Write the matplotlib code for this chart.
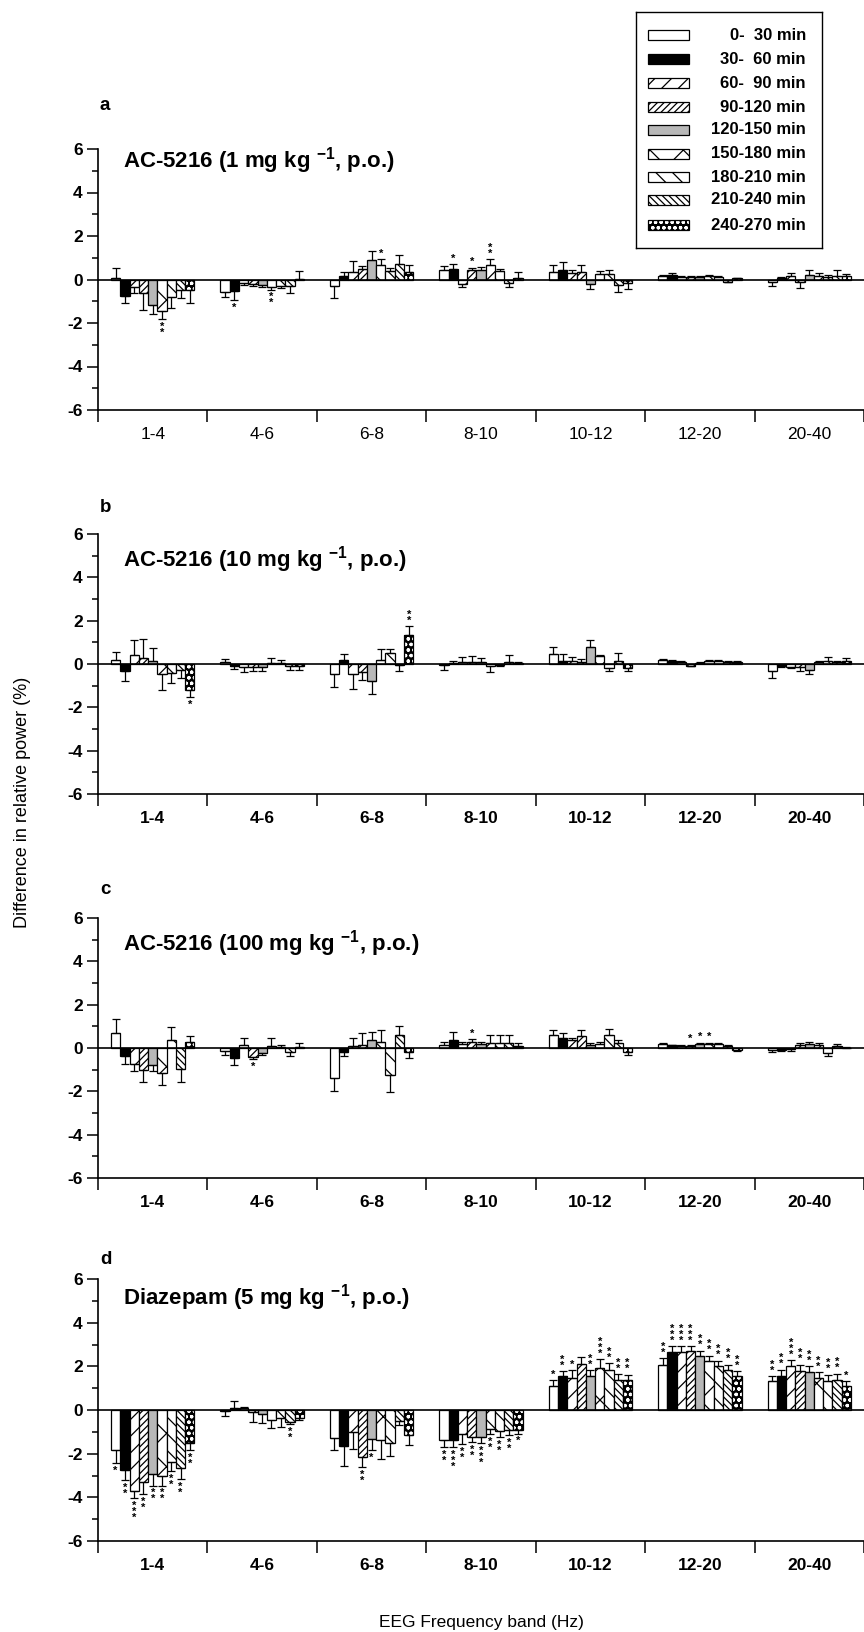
import matplotlib
matplotlib.use("Agg")
import matplotlib.pyplot as plt
from matplotlib.patches import Rectangle
import numpy as np

plt.rcParams["font.family"] = ["Liberation Sans", "DejaVu Sans"]
plt.rcParams["mathtext.fontset"] = "custom"
plt.rcParams["mathtext.rm"] = "Liberation Sans"
plt.rcParams["mathtext.bf"] = "Liberation Sans:bold"
plt.rcParams["axes.unicode_minus"] = False
plt.rcParams["hatch.linewidth"] = 0.9

# Frequency bands and recording periods
bands = ["1-4", "4-6", "6-8", "8-10", "10-12", "12-20", "20-40"]
periods = ["0-  30 min", "30-  60 min", "60-  90 min", "90-120 min", "120-150 min",
           "150-180 min", "180-210 min", "210-240 min", "240-270 min"]

# Panel a: AC-5216 1 mg/kg (rows = bands, cols = periods)
mean_a = [[0.05, -0.75, -0.35, -0.6, -1.15, -1.43, -0.8, -0.5, -0.5],
          [-0.58, -0.54, -0.15, -0.2, -0.25, -0.35, -0.3, -0.3, 0.02],
          [-0.28, 0.15, 0.35, 0.5, 0.88, 0.65, 0.4, 0.72, 0.34],
          [0.45, 0.5, -0.2, 0.45, 0.42, 0.65, 0.38, -0.15, 0.05],
          [0.34, 0.42, 0.3, 0.34, -0.2, 0.23, 0.26, -0.25, -0.15],
          [0.15, 0.2, 0.12, 0.12, 0.1, 0.15, 0.12, -0.1, 0.05],
          [-0.1, 0.08, 0.15, -0.1, 0.2, 0.15, 0.1, 0.15, 0.15]]
err_a = [[0.47, 0.33, 0.25, 0.8, 0.45, 0.4, 0.5, 0.35, 0.58],
         [0.24, 0.4, 0.1, 0.1, 0.1, 0.12, 0.1, 0.3, 0.35],
         [0.57, 0.2, 0.5, 0.12, 0.42, 0.3, 0.15, 0.42, 0.34],
         [0.17, 0.22, 0.15, 0.1, 0.15, 0.3, 0.08, 0.2, 0.3],
         [0.31, 0.38, 0.12, 0.34, 0.23, 0.14, 0.16, 0.33, 0.28],
         [0.07, 0.08, 0.05, 0.06, 0.05, 0.05, 0.05, 0.03, 0.03],
         [0.2, 0.05, 0.15, 0.28, 0.22, 0.15, 0.1, 0.27, 0.1]]
sig_a = [["", "", "", "", "", "**", "", "", ""],
         ["", "*", "", "", "", "**", "", "", ""],
         ["", "", "", "", "", "*", "", "", ""],
         ["", "*", "", "*", "", "**", "", "", ""],
         [""] * 9, [""] * 9, [""] * 9]

# Panel b: AC-5216 10 mg/kg
mean_b = [[0.2, -0.34, 0.43, 0.28, 0.12, -0.46, -0.4, -0.26, -1.18],
          [0.07, -0.1, -0.15, -0.12, -0.15, 0.05, 0.05, -0.1, -0.1],
          [-0.46, 0.2, -0.46, -0.35, -0.8, 0.2, 0.5, -0.05, 1.32],
          [-0.05, 0.05, 0.1, 0.1, 0.1, -0.1, -0.05, 0.1, 0.05],
          [0.46, 0.15, 0.12, 0.1, 0.78, 0.35, -0.2, 0.15, -0.2],
          [0.2, 0.15, 0.1, -0.08, 0.05, 0.15, 0.15, 0.1, 0.1],
          [-0.34, -0.1, -0.15, -0.15, -0.26, 0.1, 0.15, 0.1, 0.12]]
err_b = [[0.34, 0.46, 0.69, 0.89, 0.62, 0.72, 0.48, 0.39, 0.34],
         [0.18, 0.13, 0.22, 0.22, 0.15, 0.23, 0.15, 0.16, 0.16],
         [0.62, 0.26, 0.68, 0.37, 0.57, 0.49, 0.19, 0.29, 0.42],
         [0.21, 0.1, 0.22, 0.25, 0.18, 0.27, 0.05, 0.33, 0.05],
         [0.31, 0.31, 0.2, 0.15, 0.31, 0.08, 0.14, 0.35, 0.1],
         [0.05, 0.04, 0.04, 0.03, 0.03, 0.04, 0.04, 0.03, 0.03],
         [0.31, 0.05, 0.05, 0.19, 0.19, 0.05, 0.17, 0.05, 0.16]]
sig_b = [["", "", "", "", "", "", "", "", "*"],
         [""] * 9,
         ["", "", "", "", "", "", "", "", "**"],
         [""] * 9, [""] * 9, [""] * 9, [""] * 9]

# Panel c: AC-5216 100 mg/kg
mean_c = [[0.69, -0.38, -0.75, -1.0, -0.78, -1.15, 0.35, -0.97, 0.3],
          [-0.15, -0.45, 0.15, -0.4, -0.25, 0.1, 0.05, -0.2, 0.05],
          [-1.4, -0.2, 0.1, 0.15, 0.35, 0.3, -1.23, 0.6, -0.2],
          [0.15, 0.35, 0.2, 0.3, 0.2, 0.25, 0.25, 0.25, 0.1],
          [0.58, 0.46, 0.35, 0.54, 0.15, 0.2, 0.62, 0.25, -0.2],
          [0.2, 0.12, 0.1, 0.1, 0.2, 0.2, 0.2, 0.1, -0.1],
          [-0.1, -0.1, -0.05, 0.15, 0.2, 0.15, -0.25, 0.1, 0.0]]
err_c = [[0.66, 0.34, 0.3, 0.55, 0.3, 0.55, 0.62, 0.6, 0.27],
         [0.15, 0.32, 0.31, 0.1, 0.05, 0.36, 0.1, 0.18, 0.18],
         [0.6, 0.15, 0.36, 0.54, 0.39, 0.55, 0.8, 0.43, 0.26],
         [0.15, 0.39, 0.1, 0.1, 0.1, 0.33, 0.33, 0.33, 0.15],
         [0.24, 0.23, 0.1, 0.28, 0.1, 0.1, 0.28, 0.13, 0.1],
         [0.05, 0.04, 0.04, 0.05, 0.05, 0.05, 0.04, 0.03, 0.03],
         [0.1, 0.05, 0.08, 0.08, 0.1, 0.08, 0.1, 0.08, 0.03]]
sig_c = [[""] * 9,
         ["", "", "", "*", "", "", "", "", ""],
         [""] * 9,
         ["", "", "", "*", "", "", "", "", ""],
         [""] * 9,
         ["", "", "", "*", "*", "*", "", "", ""],
         [""] * 9]

# Panel d: Diazepam 5 mg/kg
mean_d = [[-1.85, -2.74, -3.69, -3.3, -2.92, -3.0, -2.4, -2.65, -1.5],
          [-0.05, 0.1, 0.1, -0.1, -0.2, -0.45, -0.35, -0.55, -0.35],
          [-1.26, -1.66, -1.0, -2.15, -1.35, -1.38, -1.5, -0.5, -1.15],
          [-1.38, -1.38, -1.08, -1.25, -1.23, -0.85, -0.95, -0.92, -0.9],
          [1.08, 1.57, 1.46, 2.12, 1.54, 1.92, 1.85, 1.38, 1.38],
          [2.08, 2.65, 2.65, 2.69, 2.46, 2.23, 2.0, 1.85, 1.54],
          [1.34, 1.57, 2.0, 1.77, 1.72, 1.46, 1.31, 1.38, 1.08]]
err_d = [[0.58, 0.46, 0.34, 0.55, 0.54, 0.46, 0.4, 0.5, 0.35],
         [0.23, 0.33, 0.05, 0.44, 0.38, 0.37, 0.42, 0.1, 0.1],
         [0.56, 0.92, 0.77, 0.45, 0.47, 0.85, 0.62, 0.2, 0.45],
         [0.32, 0.32, 0.5, 0.21, 0.3, 0.25, 0.3, 0.23, 0.18],
         [0.3, 0.2, 0.36, 0.31, 0.28, 0.42, 0.3, 0.27, 0.24],
         [0.3, 0.27, 0.27, 0.23, 0.26, 0.26, 0.26, 0.23, 0.23],
         [0.2, 0.28, 0.28, 0.31, 0.28, 0.26, 0.31, 0.28, 0.23]]
sig_d = [["*", "**", "***", "**", "**", "**", "**", "**", "**"],
         ["", "", "", "", "", "", "", "**", ""],
         ["", "", "", "**", "*", "", "", "", ""],
         ["**", "***", "**", "**", "***", "**", "**", "**", "*"],
         ["*", "**", "*", "", "**", "***", "**", "**", "**"],
         ["**", "***", "***", "***", "**", "**", "**", "**", "**"],
         ["**", "**", "***", "**", "**", "**", "**", "**", "*"]]

titles = [r"AC-5216 (1 mg kg $^{\mathbf{-1}}$, p.o.)",
          r"AC-5216 (10 mg kg $^{\mathbf{-1}}$, p.o.)",
          r"AC-5216 (100 mg kg $^{\mathbf{-1}}$, p.o.)",
          r"Diazepam (5 mg kg $^{\mathbf{-1}}$, p.o.)"]
letters = ["a", "b", "c", "d"]

# fill colour / hatch for each period
faces = ["white", "black", "white", "white", "#b8b8b8", "white", "white", "white", "black"]
hatches = ["", "", "//", "/////", "", "x", "\\\\", "\\\\\\\\\\", "ooo"]

W, H = 864, 1632
fig = plt.figure(figsize=(W / 100, H / 100), dpi=100)

# pixel layout of the four panels (top, bottom)
panel_px = [(149, 410), (534, 794), (918, 1178), (1279, 1541)]
letter_px = [106, 508, 890, 1259]
title_off = [0.955, 0.90, 0.90, 0.93]
left_px = 98
grp_px = 110.0
bw = 84.0 / 9 / grp_px


def draw_bar(ax, x, m, k):
    if k == 8:
        ax.bar(x, m, bw, color="black", edgecolor="white", hatch=hatches[k], linewidth=0)
        ax.bar(x, m, bw, fill=False, edgecolor="black", linewidth=0.9)
    else:
        ax.bar(x, m, bw, color=faces[k], edgecolor="black", hatch=hatches[k], linewidth=0.9)


def draw_panel(ax, means, errs, sigs, bold_ticks):
    means = np.array(means)
    errs = np.array(errs)
    for g in range(len(bands)):
        for k in range(len(periods)):
            x = g + 0.5 + (k - 4) * bw
            m = means[g, k]
            e = errs[g, k]
            draw_bar(ax, x, m, k)
            lo, up = (0, e) if m >= 0 else (e, 0)
            ax.errorbar(x, m, yerr=[[lo], [up]], fmt="none", ecolor="black",
                        elinewidth=0.9, capsize=2.8, capthick=0.9)
            s = sigs[g][k]
            if s:
                txt = "\n".join(s)
                if m >= 0:
                    ax.text(x, m + e + 0.02, txt, ha="center", va="bottom",
                            fontsize=8, linespacing=0.5, fontweight="bold")
                else:
                    ax.text(x, m - e - 0.12, txt, ha="center", va="top",
                            fontsize=8, linespacing=0.5, fontweight="bold")

    ax.axhline(0, color="black", linewidth=1.2, zorder=5)
    ax.set_ylim(-6, 6)
    ax.set_xlim(0, (W - left_px) / grp_px)
    ax.set_yticks(np.arange(-6, 7, 2))
    ax.set_yticks(np.arange(-5, 6, 2), minor=True)
    ax.set_xticks(np.arange(0, 8))
    ax.set_xticklabels([])
    ax.set_xticks(np.arange(len(bands)) + 0.5, minor=True)
    ax.set_xticklabels(bands, minor=True,
                       fontweight="bold" if bold_ticks else "normal", fontsize=12.5)
    ax.tick_params(axis="x", which="major", length=8.5, width=1.1, direction="out")
    ax.tick_params(axis="x", which="minor", length=0, pad=12)
    ax.tick_params(axis="y", which="major", length=8, width=1.1, labelsize=12.5, pad=3)
    ax.tick_params(axis="y", which="minor", length=4.5, width=1.1)
    for lab in ax.get_yticklabels():
        lab.set_fontweight("bold")
    ax.spines["top"].set_visible(False)
    ax.spines["right"].set_visible(False)
    ax.spines["left"].set_linewidth(1.2)
    ax.spines["bottom"].set_linewidth(1.2)


all_means = [mean_a, mean_b, mean_c, mean_d]
all_errs = [err_a, err_b, err_c, err_d]
all_sigs = [sig_a, sig_b, sig_c, sig_d]

for i in range(4):
    top, bot = panel_px[i]
    ax = fig.add_axes([left_px / W, 1 - bot / H, (W - left_px) / W, (bot - top) / H])
    draw_panel(ax, all_means[i], all_errs[i], all_sigs[i], bold_ticks=(i > 0))
    ax.text(0.033, title_off[i], titles[i], transform=ax.transAxes, fontsize=16,
            fontweight="bold", ha="left", va="center")
    fig.text(100 / W, 1 - letter_px[i] / H, letters[i], fontsize=13.5,
             fontweight="bold", ha="left", va="center")

# Axis labels
fig.text(23 / W, 1 - 802 / H, "Difference in relative power (%)", rotation=90,
         ha="center", va="center", fontsize=13)
fig.text(481 / W, 1 - 1622 / H, "EEG Frequency band (Hz)", ha="center",
         va="center", fontsize=12.5)

# Legend box drawn by hand (right aligned labels)
lx0, ly0, lw_, lh_ = 636, 12, 186, 236
lax = fig.add_axes([lx0 / W, 1 - (ly0 + lh_) / H, lw_ / W, lh_ / H])
lax.set_xlim(0, lw_)
lax.set_ylim(lh_, 0)
lax.set_xticks([])
lax.set_yticks([])
lax.set_facecolor("white")
for sp in lax.spines.values():
    sp.set_linewidth(1.0)
leg_y = [23, 47, 71, 95, 118, 142, 165, 188, 213]
for k, lab in enumerate(periods):
    yc = leg_y[k]
    if k == 8:
        lax.add_patch(Rectangle((12, yc - 5), 41, 10, facecolor="black",
                                edgecolor="white", hatch=hatches[k], linewidth=0))
        lax.add_patch(Rectangle((12, yc - 5), 41, 10, fill=False,
                                edgecolor="black", linewidth=0.9))
    else:
        lax.add_patch(Rectangle((12, yc - 5), 41, 10, facecolor=faces[k],
                                edgecolor="black", hatch=hatches[k], linewidth=0.9))
    lax.text(170, yc, lab, ha="right", va="center", fontsize=12, fontweight="bold")

fig.savefig("out.png", dpi=100, facecolor="white")
